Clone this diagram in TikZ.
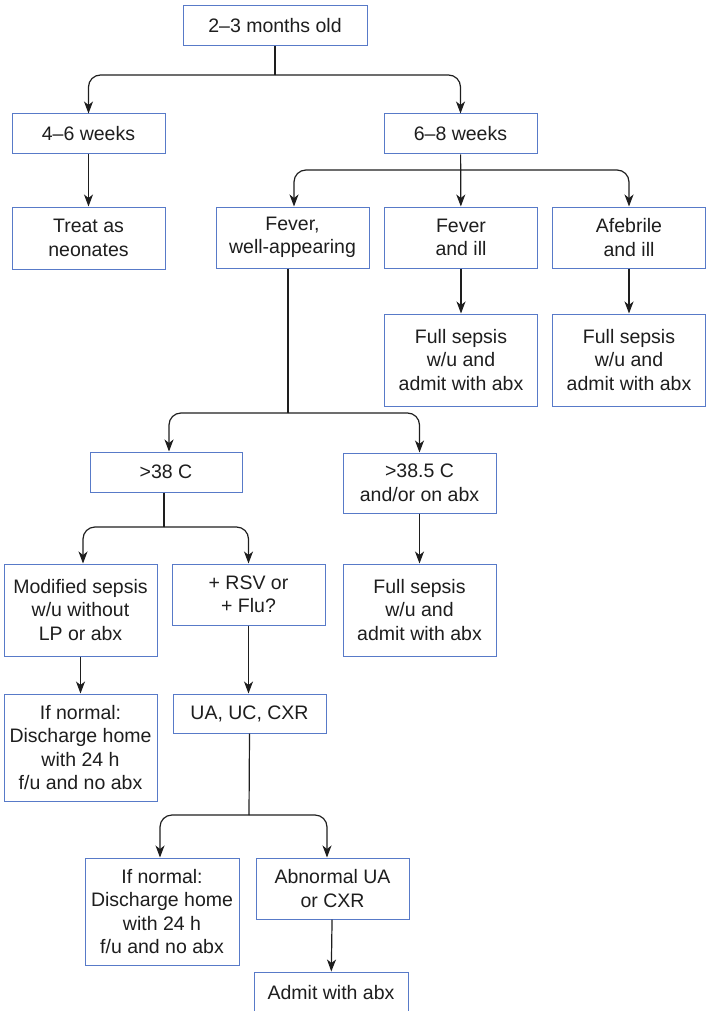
\documentclass[tikz,border=0pt]{standalone}
\usepackage{fontspec}
\setmainfont{Liberation Sans}
\usetikzlibrary{arrows.meta,calc}
\definecolor{boxblue}{RGB}{88,122,200}
\definecolor{ink}{RGB}{30,30,30}
\begin{document}
\begin{tikzpicture}[x=1pt,y=-1pt,
  box/.style={draw=boxblue,line width=1pt,fill=white,align=center,inner sep=0pt,
    text=ink,font=\fontsize{19.5}{23.5}\selectfont,minimum width=153pt},
  conn/.style={draw=ink,line width=1.2pt},
  arr/.style={conn,-{Stealth[length=12pt,width=9pt,inset=3.5pt]}},
  rc/.style={rounded corners=12pt}]
\useasboundingbox (0,0) rectangle (706,1011);
% nodes
\node[box,minimum width=184pt,minimum height=40pt] (top) at (275,26) {2–3 months old};
\node[box,minimum height=40pt] (w46) at (88.5,134) {4–6 weeks};
\node[box,minimum height=40pt] (w68) at (460.5,134) {6–8 weeks};
\node[box,minimum height=62pt] (treat) at (88.5,238) {Treat as\\neonates};
\node[box,minimum height=61pt] (fwa) at (292.5,237.5) {Fever,\\well-appearing};
\node[box,minimum height=61pt] (fill) at (461,237.5) {Fever\\and ill};
\node[box,minimum height=61pt] (afeb) at (629,237.5) {Afebrile\\and ill};
\node[box,minimum height=92pt] (fs1) at (461,360) {Full sepsis\\w/u and\\admit with abx};
\node[box,minimum height=92pt] (fs2) at (629,360) {Full sepsis\\w/u and\\admit with abx};
\node[box,minimum width=152pt,minimum height=40pt] (g38) at (166,472) {>38 C};
\node[box,minimum height=60pt] (g385) at (419.5,483) {>38.5 C\\and/or on abx};
\node[box,minimum height=92pt] (mod) at (80.5,610) {Modified sepsis\\w/u without\\LP or abx};
\node[box,minimum height=61pt] (rsv) at (248.5,594.5) {+ RSV or\\+ Flu?};
\node[box,minimum height=92pt] (fs3) at (419.5,610) {Full sepsis\\w/u and\\admit with abx};
\node[box,minimum height=107pt] (norm1) at (80.5,747.5) {If normal:\\Discharge home\\with 24 h\\f/u and no abx};
\node[box,minimum height=39pt] (ua) at (249.5,713.5) {UA, UC, CXR};
\node[box,minimum width=154pt,minimum height=107pt] (norm2) at (162,911.5) {If normal:\\Discharge home\\with 24 h\\f/u and no abx};
\node[box,minimum height=61pt] (abn) at (332.5,888.5) {Abnormal UA\\or CXR};
\node[box,minimum width=154pt,minimum height=42pt] (admit) at (331,993) {Admit with abx};
% junctions
\coordinate (j1) at (275,75);
\coordinate (j2) at (461,170);
\coordinate (j3) at (288,413);
\coordinate (j4) at (164,527);
\coordinate (j5) at (249,815);
% connectors
\draw[conn] (top.south) -- (j1);
\draw[arr,rc] (j1) -| (w46.north);
\draw[arr,rc] (j1) -| (w68.north);
\draw[arr] (w46) -- (treat);
\draw[arr] (w68) -- (fill);
\draw[arr,rc] (j2) -| ([xshift=1.5pt]fwa.north);
\draw[arr,rc] (j2) -| (afeb.north);
\draw[arr] (fill) -- (fs1);
\draw[arr] (afeb) -- (fs2);
\draw[conn] ([xshift=-4.5pt]fwa.south) -- (j3);
\draw[arr,rc] (j3) -| ([xshift=3pt]g38.north);
\draw[arr,rc] (j3) -| (g385.north);
\draw[conn] ([xshift=-2pt]g38.south) -- (j4);
\draw[arr,rc] (j4) -| ([xshift=2.5pt]mod.north);
\draw[arr,rc] (j4) -| (rsv.north);
\draw[arr] (g385) -- (fs3);
\draw[arr] (mod) -- (norm1);
\draw[arr] (rsv.south) -- (rsv.south |- ua.north);
\draw[conn] (ua.south) -- (j5);
\draw[arr,rc] (j5) -| ([xshift=-2pt]norm2.north);
\draw[arr,rc] (j5) -| ([xshift=-5.5pt]abn.north);
\draw[arr] (abn) -- (admit);
\end{tikzpicture}
\end{document}
